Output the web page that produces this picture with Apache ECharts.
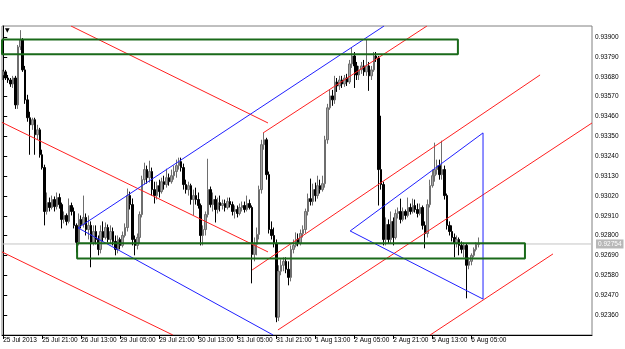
<!DOCTYPE html>
<html><head><meta charset="utf-8">
<script src="https://cdn.jsdelivr.net/npm/echarts@6/dist/echarts.min.js"></script>
<style>html,body{margin:0;padding:0;background:#fff}#c{width:625px;height:349px}</style>
</head><body><div id="c"></div>
<script>
const xTickLabels = ['25 Jul 2013','25 Jul 21:00','26 Jul 13:00','29 Jul 05:00','29 Jul 21:00','30 Jul 13:00','31 Jul 05:00','31 Jul 21:00','1 Aug 13:00','2 Aug 05:00','2 Aug 21:00','5 Aug 13:00','6 Aug 05:00'];
const yTicks = [0.92360,0.92470,0.92580,0.92690,0.92800,0.92910,0.93020,0.93130,0.93240,0.93350,0.93460,0.93570,0.93680,0.93790,0.93900];
const currentPrice = 0.92754;
const slotCount = 242;

const open = [
0.93690,0.93707,0.93673,0.93662,0.93640,0.93673,0.93524,0.93845,0.93883,0.93718,
0.93552,0.93453,0.93414,0.93442,0.93359,0.93386,0.93248,0.93177,0.92934,0.92983,
0.92956,0.93000,0.92961,0.93011,0.92972,0.92890,0.92912,0.92879,0.92967,0.92934,
0.92857,0.92763,0.92890,0.92862,0.92901,0.92834,0.92857,0.92763,0.92823,0.92779,
0.92724,0.92823,0.92790,0.92845,0.92779,0.92823,0.92768,0.92724,0.92779,0.92746,
0.92801,0.92845,0.93022,0.92972,0.92779,0.92746,0.92790,0.92917,0.93110,0.93166,
0.93121,0.93155,0.93055,0.93022,0.93077,0.93044,0.93099,0.93083,0.93121,0.93099,
0.93132,0.93155,0.93188,0.93210,0.93177,0.93083,0.93055,0.93077,0.93000,0.93022,
0.93000,0.92967,0.92801,0.92834,0.92917,0.93055,0.92972,0.93000,0.92945,0.92983,
0.92967,0.92978,0.92956,0.92989,0.92972,0.92934,0.92945,0.92923,0.92956,0.92967,
0.92945,0.92978,0.92956,0.92696,0.92752,0.92807,0.93055,0.93304,0.93331,0.93138,
0.92834,0.92801,0.92757,0.92349,0.92603,0.92636,0.92658,0.92614,0.92569,0.92724,
0.92746,0.92779,0.92757,0.92812,0.92834,0.92934,0.93005,0.92989,0.93055,0.93022,
0.93077,0.93055,0.93088,0.93331,0.93508,0.93574,0.93552,0.93651,0.93629,0.93662,
0.93640,0.93673,0.93651,0.93751,0.93795,0.93740,0.93690,0.93718,0.93740,0.93707,
0.93740,0.93685,0.93718,0.93795,0.93784,0.93166,0.93083,0.92779,0.92862,0.92779,
0.92879,0.92790,0.92923,0.92934,0.92890,0.92934,0.92912,0.92956,0.92934,0.92967,
0.92945,0.92923,0.92956,0.92857,0.92812,0.92972,0.93077,0.93132,0.93166,0.93188,
0.93138,0.93166,0.93022,0.92857,0.92823,0.92790,0.92757,0.92779,0.92746,0.92724,
0.92746,0.92636,0.92658,0.92691,0.92724,0.92752];
const close = [
0.93707,0.93673,0.93662,0.93640,0.93673,0.93524,0.93845,0.93883,0.93718,0.93552,
0.93453,0.93414,0.93442,0.93359,0.93386,0.93248,0.93177,0.92934,0.92983,0.92956,
0.93000,0.92961,0.93011,0.92972,0.92890,0.92912,0.92879,0.92967,0.92934,0.92857,
0.92763,0.92890,0.92862,0.92901,0.92834,0.92857,0.92763,0.92823,0.92779,0.92724,
0.92823,0.92790,0.92845,0.92779,0.92823,0.92768,0.92724,0.92779,0.92746,0.92801,
0.92845,0.93022,0.92972,0.92779,0.92746,0.92790,0.92917,0.93110,0.93166,0.93121,
0.93155,0.93055,0.93022,0.93077,0.93044,0.93099,0.93083,0.93121,0.93099,0.93132,
0.93155,0.93188,0.93210,0.93177,0.93083,0.93055,0.93077,0.93000,0.93022,0.93000,
0.92967,0.92801,0.92834,0.92917,0.93055,0.92972,0.93000,0.92945,0.92983,0.92967,
0.92978,0.92956,0.92989,0.92972,0.92934,0.92945,0.92923,0.92956,0.92967,0.92945,
0.92978,0.92956,0.92696,0.92752,0.92807,0.93055,0.93304,0.93331,0.93138,0.92834,
0.92801,0.92757,0.92349,0.92603,0.92636,0.92658,0.92614,0.92569,0.92724,0.92746,
0.92779,0.92757,0.92812,0.92834,0.92934,0.93005,0.92989,0.93055,0.93022,0.93077,
0.93055,0.93088,0.93331,0.93508,0.93574,0.93552,0.93651,0.93629,0.93662,0.93640,
0.93673,0.93651,0.93751,0.93795,0.93740,0.93690,0.93718,0.93740,0.93707,0.93740,
0.93685,0.93718,0.93795,0.93784,0.93166,0.93083,0.92779,0.92862,0.92779,0.92879,
0.92790,0.92923,0.92934,0.92890,0.92934,0.92912,0.92956,0.92934,0.92967,0.92945,
0.92923,0.92956,0.92857,0.92812,0.92972,0.93077,0.93132,0.93166,0.93188,0.93138,
0.93166,0.93022,0.92857,0.92823,0.92790,0.92757,0.92779,0.92746,0.92724,0.92746,
0.92636,0.92658,0.92691,0.92724,0.92752,0.92754];
const low = [
0.93662,0.93662,0.93646,0.93624,0.93618,0.93502,0.93502,0.93828,0.93707,0.93530,
0.93431,0.93248,0.93386,0.93248,0.93331,0.93232,0.93166,0.92857,0.92917,0.92934,
0.92945,0.92934,0.92945,0.92950,0.92840,0.92868,0.92857,0.92868,0.92912,0.92840,
0.92707,0.92746,0.92840,0.92845,0.92801,0.92779,0.92625,0.92746,0.92752,0.92691,
0.92702,0.92768,0.92779,0.92763,0.92757,0.92746,0.92691,0.92702,0.92724,0.92735,
0.92790,0.92823,0.92945,0.92746,0.92691,0.92724,0.92757,0.92901,0.93083,0.93088,
0.93094,0.93022,0.92978,0.93000,0.93011,0.93033,0.93055,0.93066,0.93077,0.93088,
0.93110,0.93121,0.93166,0.93155,0.93055,0.93033,0.93022,0.92972,0.92912,0.92972,
0.92950,0.92746,0.92746,0.92801,0.92901,0.92956,0.92934,0.92873,0.92923,0.92934,
0.92945,0.92934,0.92945,0.92956,0.92912,0.92895,0.92901,0.92912,0.92934,0.92928,
0.92934,0.92945,0.92536,0.92658,0.92691,0.92779,0.93033,0.93276,0.93110,0.92812,
0.92779,0.92735,0.92321,0.92327,0.92581,0.92603,0.92592,0.92525,0.92547,0.92702,
0.92735,0.92741,0.92746,0.92790,0.92812,0.92912,0.92967,0.92967,0.92989,0.93005,
0.93033,0.93044,0.93066,0.93309,0.93497,0.93519,0.93530,0.93596,0.93607,0.93618,
0.93624,0.93629,0.93640,0.93729,0.93618,0.93662,0.93662,0.93696,0.93685,0.93685,
0.93602,0.93662,0.93707,0.93762,0.92967,0.93055,0.92746,0.92746,0.92757,0.92757,
0.92746,0.92779,0.92895,0.92868,0.92879,0.92890,0.92901,0.92917,0.92923,0.92928,
0.92901,0.92912,0.92834,0.92730,0.92790,0.92956,0.93066,0.93099,0.93138,0.93110,
0.93110,0.93000,0.92834,0.92801,0.92768,0.92680,0.92735,0.92691,0.92702,0.92680,
0.92453,0.92614,0.92636,0.92680,0.92713,0.92735];
const high = [
0.93718,0.93718,0.93690,0.93673,0.93685,0.93685,0.93856,0.93938,0.93894,0.93740,
0.93580,0.93486,0.93453,0.93453,0.93414,0.93397,0.93276,0.93193,0.93039,0.93011,
0.93022,0.93017,0.93039,0.93033,0.92983,0.92934,0.92923,0.93006,0.92983,0.92956,
0.92868,0.92923,0.92912,0.93022,0.92923,0.92912,0.92879,0.92857,0.92857,0.92801,
0.92857,0.92879,0.92873,0.92862,0.92857,0.92845,0.92801,0.92801,0.92790,0.92823,
0.92868,0.93061,0.93044,0.93006,0.92801,0.92812,0.92934,0.93132,0.93204,0.93188,
0.93215,0.93177,0.93099,0.93099,0.93110,0.93121,0.93132,0.93171,0.93144,0.93166,
0.93188,0.93221,0.93232,0.93232,0.93199,0.93110,0.93099,0.93088,0.93055,0.93066,
0.93039,0.92978,0.92857,0.92934,0.93226,0.93072,0.93039,0.93022,0.93011,0.93022,
0.93000,0.93000,0.93011,0.93011,0.92989,0.92967,0.92967,0.92978,0.92989,0.92989,
0.93022,0.93000,0.92967,0.92790,0.92845,0.93077,0.93331,0.93370,0.93342,0.93155,
0.92879,0.92845,0.92779,0.92636,0.92669,0.92680,0.92680,0.92658,0.92746,0.92779,
0.92818,0.92812,0.92834,0.92857,0.92950,0.93033,0.93116,0.93088,0.93094,0.93132,
0.93110,0.93132,0.93353,0.93530,0.93607,0.93607,0.93685,0.93673,0.93685,0.93685,
0.93690,0.93696,0.93773,0.93839,0.93817,0.93762,0.93740,0.93762,0.93773,0.93889,
0.93762,0.93740,0.93817,0.93817,0.93795,0.93464,0.93099,0.92901,0.92890,0.92934,
0.92901,0.92945,0.92956,0.93005,0.92956,0.92945,0.93011,0.92978,0.93005,0.93000,
0.92978,0.92978,0.92967,0.92879,0.93000,0.93110,0.93166,0.93315,0.93221,0.93221,
0.93326,0.93188,0.93033,0.92879,0.92857,0.92812,0.92801,0.92790,0.92768,0.92763,
0.92757,0.92680,0.92702,0.92735,0.92763,0.92790];

// trend lines: [bar index, price] endpoints
const redLines = [
  [[27.8,0.93961],[108.6,0.93424]],
  [[-0.5,0.93427],[108.6,0.92710]],
  [[-0.5,0.92710],[69.6,0.92250]],
  [[106.6,0.93369],[173.8,0.93961]],
  [[102.1,0.92610],[220.2,0.93690]],
  [[112.7,0.92278],[241.5,0.93424]],
  [[175.1,0.92250],[225.5,0.92699]]
];
const blueLines = [
  [[30.7,0.92843],[156.2,0.93961]],
  [[30.7,0.92843],[110.7,0.92250]],
  [[142.3,0.92826],[196.8,0.93369],[196.8,0.92449],[142.3,0.92826]]
];
// rectangles: [left index, right index, top price, bottom price]
const greenBoxes = [
  [-0.5, 186.5, 0.93886, 0.93804],
  [30.3, 214.0, 0.92758, 0.92673]
];

const categories = Array.from({length: slotCount}, (_, i) => String(i));
const candleData = open.map((o, i) => [o, close[i], low[i], high[i]]);
const FONT = '"Liberation Sans", Arial, sans-serif';

const lineSeries = [];
lineSeries.push({type:'line', xAxisIndex:1, symbol:'none', silent:true, animation:false, z:2,
  data:[[-0.5,currentPrice],[slotCount-0.5,currentPrice]],
  lineStyle:{color:'#c4c4c4', width:1},
  endLabel:{show:true, distance:4, formatter:()=>currentPrice.toFixed(5), color:'#fff',
    backgroundColor:'#b8b8b8', padding:[1,2,1,2], fontSize:6.5, fontFamily:FONT}});
redLines.forEach(pts => lineSeries.push({type:'line', xAxisIndex:1, data:pts, symbol:'none', silent:true, animation:false, z:5,
  lineStyle:{color:'#ff2020', width:1}}));
blueLines.forEach(pts => lineSeries.push({type:'line', xAxisIndex:1, data:pts, symbol:'none', silent:true, animation:false, z:5,
  lineStyle:{color:'#2020ff', width:1}}));
greenBoxes.forEach(b => lineSeries.push({type:'line', xAxisIndex:1, symbol:'none', silent:true, animation:false, z:6,
  data:[[b[0],b[2]],[b[1],b[2]],[b[1],b[3]],[b[0],b[3]],[b[0],b[2]]],
  lineStyle:{color:'#1a6a1a', width:2}}));

const chart = echarts.init(document.getElementById('c'), null, {renderer:'canvas'});
chart.setOption({
  animation:false,
  backgroundColor:'#ffffff',
  grid:{left:2, right:33, top:26, bottom:14, show:true, borderColor:'#808080', borderWidth:1},
  xAxis:[{
    type:'category', data:categories, boundaryGap:true,
    axisLine:{show:true, lineStyle:{color:'#000', width:1}},
    axisTick:{show:true, alignWithLabel:true, length:4, lineStyle:{color:'#000'},
      interval:(i)=> i % 16 === 0 && i/16 < xTickLabels.length},
    axisLabel:{interval:15, align:'left', margin:2, fontSize:6.5, color:'#000', fontFamily:FONT,
      formatter:(v,i)=> (i % 16 === 0 && xTickLabels[i/16]) ? xTickLabels[i/16] : ''},
    splitLine:{show:false}
  },{
    type:'value', min:-0.5, max:slotCount-0.5, show:false, gridIndex:0
  }],
  yAxis:{
    type:'value', position:'right', min:0.92250, max:0.93961, scale:true,
    axisLine:{show:true, lineStyle:{color:'#000', width:1}},
    axisTick:{show:true, length:4, lineStyle:{color:'#000'}, customValues:yTicks},
    axisLabel:{color:'#000', fontSize:6.5, margin:3, fontFamily:FONT, customValues:yTicks,
      formatter:(v)=> v.toFixed(5)},
    splitLine:{show:false}
  },
  series:[{
    type:'candlestick', data:candleData, barWidth:2, animation:false, z:3,
    itemStyle:{color:'#a4a4a4', color0:'#000000', borderColor:'#6e6e6e', borderColor0:'#000000', borderWidth:1}
  }].concat(lineSeries),
  graphic:[{type:'text', left:5, top:27, style:{text:'▼', fontSize:6, fill:'#000', fontFamily:'DejaVu Sans'}}]
});
</script></body></html>
